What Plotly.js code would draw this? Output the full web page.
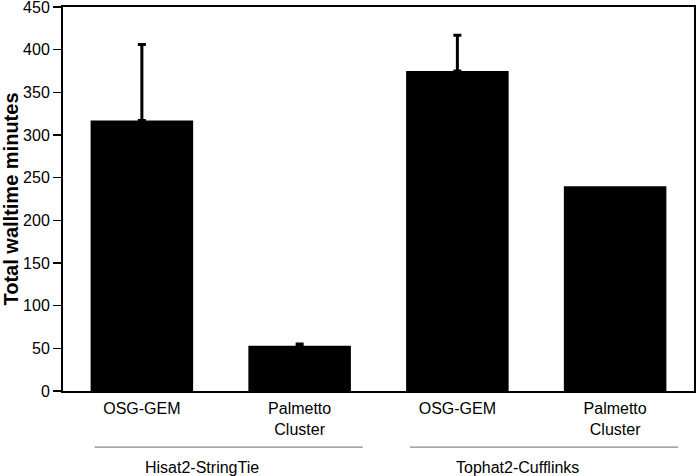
<!DOCTYPE html>
<html><head><meta charset="utf-8">
<script src="https://cdn.plot.ly/plotly-3.0.1.min.js"></script>
<style>body{margin:0;padding:0;background:#fff}#chart{width:697px;height:476px}</style>
</head><body><div id="chart"></div>
<script>
const categories = ["OSG-GEM", "Palmetto<br>Cluster", "OSG-GEM", "Palmetto<br>Cluster"];
const walltime = [317, 53, 375, 240];
const errors = [89, 2, 42, null];
const groups = ["Hisat2-StringTie", "Tophat2-Cufflinks"];
const groupSpans = [[0, 1], [2, 3]];

const xpos = categories.map((_, i) => i);
const withErr = xpos.filter(i => errors[i] !== null);
const noErr = xpos.filter(i => errors[i] === null);
const traces = [
  {type: 'bar', x: withErr, y: withErr.map(i => walltime[i]), width: 0.65, marker: {color: '#000'},
   error_y: {type: 'data', array: withErr.map(i => errors[i]), visible: true, symmetric: false,
             arrayminus: withErr.map(() => 0), color: '#000', thickness: 3, width: 4},
   hoverinfo: 'none'},
  {type: 'bar', x: noErr, y: noErr.map(i => walltime[i]), width: 0.65, marker: {color: '#000'},
   hoverinfo: 'none'}
];
const shapes = groupSpans.map(s => ({type: 'line', xref: 'x', yref: 'paper',
  x0: s[0] - 0.3, x1: s[1] + 0.4, y0: -0.146, y1: -0.146, line: {color: '#888', width: 1.2}}));
const annotations = groups.map((g, i) => ({xref: 'x', yref: 'paper',
  x: groupSpans[i][0] + 0.38, y: -0.198, yanchor: 'middle', showarrow: false,
  text: g, font: {size: 16, color: '#000'}}));
const layout = {
  width: 697, height: 476,
  margin: {l: 63, r: 3, t: 7, b: 85},
  paper_bgcolor: '#fff', plot_bgcolor: '#fff',
  font: {family: 'Liberation Sans, Arial, sans-serif', color: '#000', size: 16},
  showlegend: false, barmode: 'overlay',
  xaxis: {range: [-0.5, 3.5], tickvals: xpos, ticktext: categories, ticks: '', showgrid: false,
          zeroline: false, showline: true, linecolor: '#000', linewidth: 2, mirror: true,
          tickfont: {size: 16}, ticklabelstandoff: 2},
  yaxis: {range: [0, 450], dtick: 50, ticks: 'outside', ticklen: 8, tickwidth: 1.5, tickcolor: '#000',
          showgrid: false, zeroline: false, showline: true, linecolor: '#000', linewidth: 2, mirror: true,
          tickfont: {size: 16}, ticklabeloverflow: 'allow',
          title: {text: '<b>Total walltime minutes</b>', font: {size: 20}, standoff: 5}},
  shapes: shapes, annotations: annotations
};
Plotly.newPlot('chart', traces, layout, {displayModeBar: false, staticPlot: true});
</script></body></html>
